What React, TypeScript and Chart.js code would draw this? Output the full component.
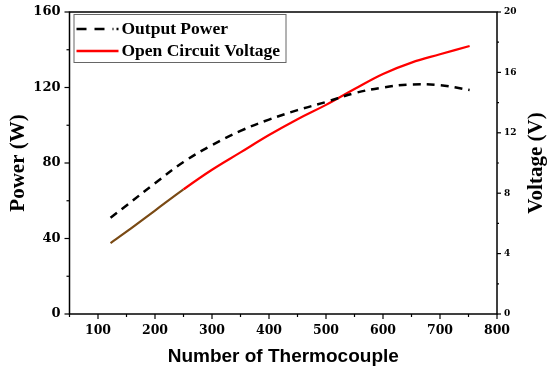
import React, { useEffect, useRef } from "react";
import { Chart, registerables } from "chart.js";

Chart.register(...registerables);

const thermocouples = [122, 150, 200, 250, 300, 350, 400, 450, 500, 550, 600, 650, 700, 752];
const outputPower = [51, 57.5, 69.3, 80.5, 89.5, 97, 103, 108, 112.3, 117, 120, 121.6, 121.2, 118.7];
const openCircuitVoltage = [4.7, 5.45, 6.85, 8.25, 9.55, 10.7, 11.85, 12.9, 13.85, 14.9, 15.9, 16.65, 17.2, 17.75];
const xTicks = [100, 200, 300, 400, 500, 600, 700, 800];
const powerTicks = [0, 40, 80, 120, 160];
const voltageTicks = [0, 4, 8, 12, 16, 20];

const SERIF = "'Liberation Serif', 'Times New Roman', serif";
const TICKFONT = "'DejaVu Serif', serif";

const framePlugin = {
  id: "framePlugin",
  afterDraw(chart: any) {
    const { ctx, chartArea: a, scales } = chart;
    ctx.save();
    ctx.strokeStyle = "#000";
    ctx.lineWidth = 1.5;
    ctx.strokeRect(a.left, a.top, a.right - a.left, a.bottom - a.top);
    ctx.lineWidth = 1.2;
    for (let v = 50; v <= 800; v += 50) {
      const px = scales.x.getPixelForValue(v);
      const major = v % 100 === 0;
      ctx.beginPath();
      ctx.moveTo(px, a.bottom);
      ctx.lineTo(px, a.bottom + (major ? 5 : 3));
      ctx.stroke();
    }
    for (let v = 0; v <= 160; v += 20) {
      const py = scales.y.getPixelForValue(v);
      const major = v % 40 === 0;
      ctx.beginPath();
      ctx.moveTo(a.left, py);
      ctx.lineTo(a.left - (major ? 5 : 3), py);
      ctx.stroke();
    }
    for (let v = 0; v <= 20; v += 2) {
      const py = scales.y1.getPixelForValue(v);
      const major = v % 4 === 0;
      ctx.beginPath();
      ctx.moveTo(a.right, py);
      ctx.lineTo(a.right + (major ? 4 : 2), py);
      ctx.stroke();
    }
    ctx.fillStyle = "#000";
    ctx.font = `bold 21px ${SERIF}`;
    ctx.textAlign = "center";
    ctx.textBaseline = "middle";
    ctx.save();
    ctx.translate(19, (a.top + a.bottom) / 2);
    ctx.rotate(-Math.PI / 2);
    ctx.fillText("Power (W)", 0, 0);
    ctx.restore();
    ctx.save();
    ctx.translate(537, (a.top + a.bottom) / 2);
    ctx.rotate(-Math.PI / 2);
    ctx.fillText("Voltage (V)", 0, 0);
    ctx.restore();
    ctx.font = "bold 19px 'Liberation Sans', Arial, sans-serif";
    ctx.fillText("Number of Thermocouple", (a.left + a.right) / 2, 357);

    const lx = a.left + 4;
    const ly = a.top + 2;
    ctx.strokeStyle = "#666";
    ctx.lineWidth = 1;
    ctx.strokeRect(lx + 0.5, ly + 0.5, 212, 48);
    ctx.font = `bold 17.5px ${SERIF}`;
    ctx.textAlign = "left";
    ctx.lineWidth = 2.5;
    ctx.strokeStyle = "#000";
    ctx.setLineDash([10, 8]);
    ctx.beginPath();
    ctx.moveTo(lx + 3, ly + 15);
    ctx.lineTo(lx + 40, ly + 15);
    ctx.stroke();
    ctx.setLineDash([]);
    ctx.beginPath();
    ctx.moveTo(lx + 43, ly + 15);
    ctx.lineTo(lx + 45, ly + 15);
    ctx.stroke();
    ctx.fillText("Output Power", lx + 48, ly + 15);
    ctx.strokeStyle = "#ff0000";
    ctx.beginPath();
    ctx.moveTo(lx + 3, ly + 37);
    ctx.lineTo(lx + 45, ly + 37);
    ctx.stroke();
    ctx.fillText("Open Circuit Voltage", lx + 48, ly + 37);
    ctx.restore();
  },
};

export default function App() {
  const ref = useRef<HTMLCanvasElement | null>(null);
  useEffect(() => {
    if (!ref.current) return;
    const chart = new Chart(ref.current, {
      type: "line",
      data: {
        datasets: [
          {
            label: "Output Power",
            data: thermocouples.map((x, i) => ({ x, y: outputPower[i] })),
            borderColor: "#000",
            borderWidth: 2.5,
            borderDash: [8, 6],
            pointRadius: 0,
            tension: 0.4,
            yAxisID: "y",
          },
          {
            label: "Open Circuit Voltage",
            data: thermocouples.map((x, i) => ({ x, y: openCircuitVoltage[i] })),
            borderColor: "#ff0000",
            borderWidth: 2.2,
            pointRadius: 0,
            tension: 0.4,
            yAxisID: "y1",
            segment: {
              borderColor: (c: any) => (c.p1.parsed.x <= 250 ? "#7a4a14" : "#ff0000"),
            },
          },
        ],
      },
      options: {
        animation: false,
        responsive: true,
        maintainAspectRatio: false,
        layout: { padding: { top: 12, left: 0, right: 0, bottom: 0 } },
        plugins: { legend: { display: false }, tooltip: { enabled: false } },
        scales: {
          x: {
            type: "linear",
            min: 50,
            max: 800,
            afterBuildTicks: (s: any) => {
              s.ticks = xTicks.map((v) => ({ value: v }));
            },
            afterFit: (s: any) => {
              s.height = 62;
            },
            grid: { display: true, drawOnChartArea: false, drawTicks: true, tickLength: 5, color: "rgba(0,0,0,0)" },
            border: { display: false },
            ticks: { color: "#000", font: { family: TICKFONT, weight: "bold", size: 12.5 }, padding: 4, maxRotation: 0 },
          },
          y: {
            position: "left",
            min: 0,
            max: 160,
            afterBuildTicks: (s: any) => {
              s.ticks = powerTicks.map((v) => ({ value: v }));
            },
            afterFit: (s: any) => {
              s.width = 69.5;
            },
            grid: { display: true, drawOnChartArea: false, drawTicks: true, tickLength: 5, color: "rgba(0,0,0,0)" },
            border: { display: false },
            ticks: { color: "#000", font: { family: TICKFONT, weight: "bold", size: 13 }, padding: 4 },
          },
          y1: {
            position: "right",
            min: 0,
            max: 20,
            afterBuildTicks: (s: any) => {
              s.ticks = voltageTicks.map((v) => ({ value: v }));
            },
            afterFit: (s: any) => {
              s.width = 53;
            },
            grid: { display: true, drawOnChartArea: false, drawTicks: true, tickLength: 4, color: "rgba(0,0,0,0)" },
            border: { display: false },
            ticks: { color: "#000", font: { family: TICKFONT, weight: "bold", size: 9 }, padding: 3 },
          },
        },
      },
      plugins: [framePlugin],
    } as any);
    return () => chart.destroy();
  }, []);
  return (
    <div style={{ position: "fixed", left: 0, top: 0, width: 550, height: 376, background: "#fff" }}>
      <canvas ref={ref} />
    </div>
  );
}
